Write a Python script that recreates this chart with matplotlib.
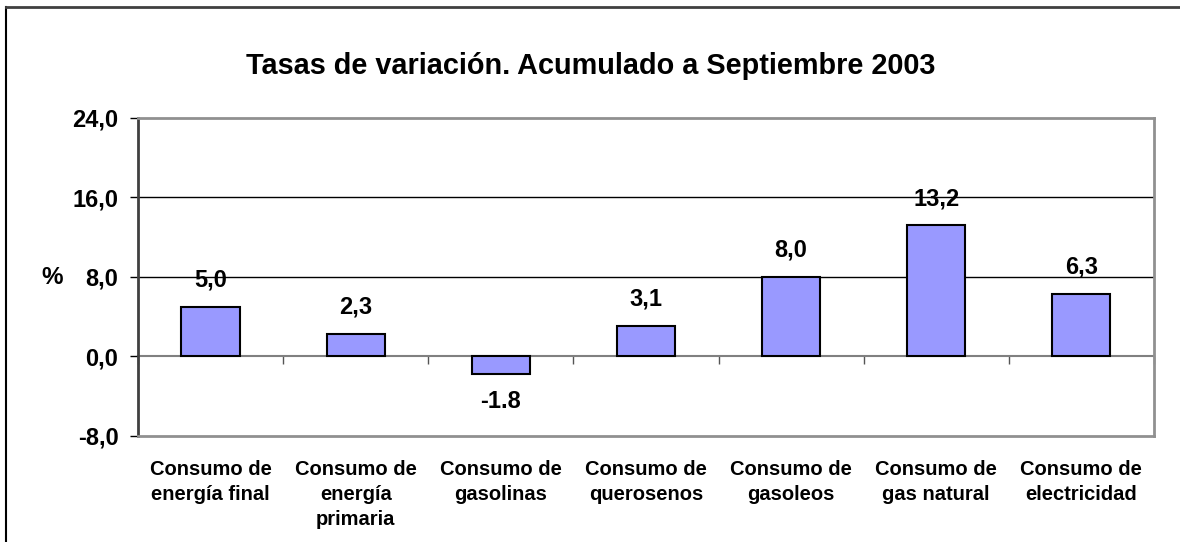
import numpy as np
import matplotlib
matplotlib.use("Agg")
import matplotlib.pyplot as plt

plt.rcParams['font.family'] = ['Liberation Sans', 'DejaVu Sans']

# data
categories = ["Consumo de\nenergía final", "Consumo de\nenergía\nprimaria", "Consumo de\ngasolinas",
              "Consumo de\nquerosenos", "Consumo de\ngasoleos", "Consumo de\ngas natural",
              "Consumo de\nelectricidad"]
values = [5.0, 2.3, -1.8, 3.1, 8.0, 13.2, 6.3]
value_labels = ["5,0", "2,3", "-1.8", "3,1", "8,0", "13,2", "6,3"]
yticks = [-8, 0, 8, 16, 24]
ytick_labels = ["-8,0", "0,0", "8,0", "16,0", "24,0"]

fig = plt.figure(figsize=(11.8, 5.42), dpi=100)
ax = fig.add_axes([0.1169, 0.1956, 0.861, 0.5867])

x = np.arange(len(categories))
bars = ax.bar(x, values, width=0.4, color='#9999ff', edgecolor='black', linewidth=1.5, zorder=3)

for b, v, lab in zip(bars, values, value_labels):
    cx = b.get_x() + b.get_width() / 2
    if v >= 0:
        ax.annotate(lab, (cx, v), xytext=(0, 11), textcoords='offset points',
                    ha='center', va='bottom', fontsize=17, fontweight='bold', zorder=4)
    else:
        ax.annotate(lab, (cx, v), xytext=(0, -11), textcoords='offset points',
                    ha='center', va='top', fontsize=17, fontweight='bold', zorder=4)

ax.set_xlim(-0.5, len(categories) - 0.5)
ax.set_ylim(-8, 24)
ax.set_yticks(yticks)
ax.set_yticklabels(ytick_labels, fontsize=17, fontweight='bold')
ax.tick_params(axis='y', direction='out', length=6, width=1, pad=8, color='black')

ax.set_xticks(x)
ax.set_xticklabels(categories, fontsize=14.5, fontweight='bold', linespacing=1.42, va='top')
ax.tick_params(axis='x', length=0, pad=17)

# gridlines
for yv in [8, 16]:
    ax.axhline(yv, color='black', linewidth=1, zorder=1)

# zero axis with category boundary ticks
sec = ax.secondary_xaxis(0.25)
sec.set_xticks(np.arange(len(categories) + 1) - 0.5)
sec.set_xticklabels([])
sec.tick_params(direction='out', length=6, width=1, color='#555555')
sec.spines['bottom'].set_color('#808080')
sec.spines['bottom'].set_linewidth(1.5)

for s in ['top', 'right', 'bottom']:
    ax.spines[s].set_color('#909090')
    ax.spines[s].set_linewidth(2)
ax.spines['left'].set_color('#404040')
ax.spines['left'].set_linewidth(2)

fig.text(0.501, 0.878, "Tasas de variación. Acumulado a Septiembre 2003",
         ha='center', va='center', fontsize=20.8, fontweight='bold')
fig.text(0.044, 0.488, "%", ha='center', va='center', fontsize=17.5, fontweight='bold')

# outer frame (left and top only)
fig.add_artist(plt.Line2D([0.0055, 0.0055], [0.0, 0.987], transform=fig.transFigure,
                          color='black', linewidth=1.5))
fig.add_artist(plt.Line2D([0.0055, 1.0], [0.987, 0.987], transform=fig.transFigure,
                          color='#404040', linewidth=2))

fig.savefig("out.png", dpi=100)
